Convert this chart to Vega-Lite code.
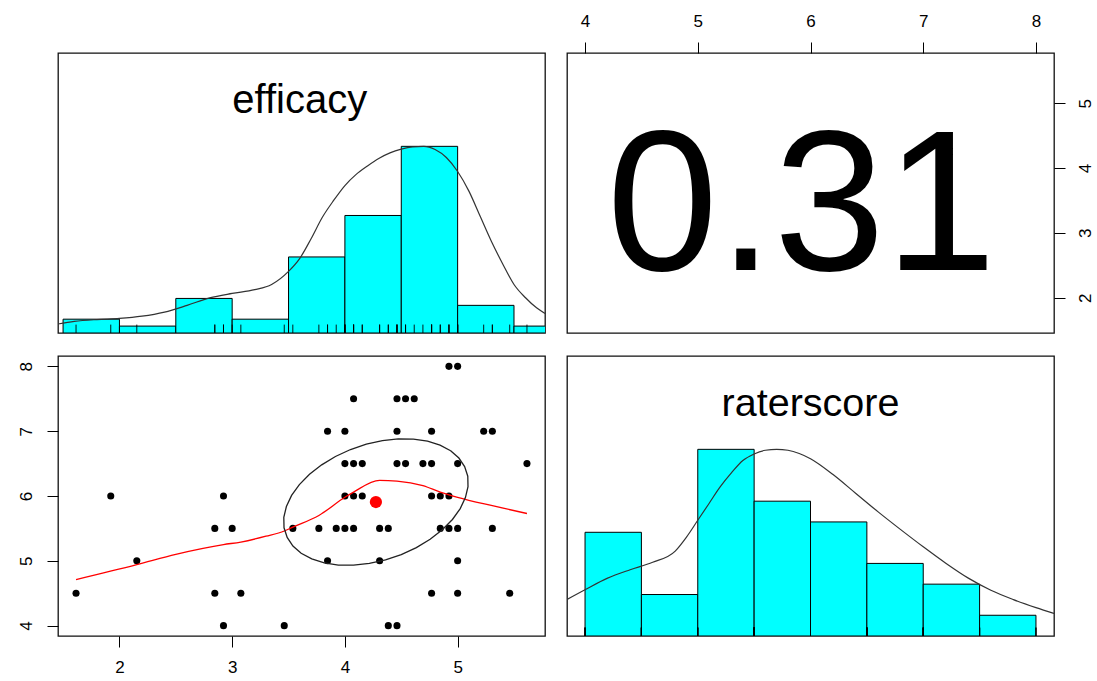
{
  "$schema": "https://vega.github.io/schema/vega-lite/v6.json",
  "background": "white",
  "padding": {"left": 16, "top": 11, "right": 0, "bottom": 0},
  "columns": 2,
  "spacing": {"row": 23, "column": 22},
  "bounds": "flush",
  "datasets": {
    "pts": [
      {"efficacy": 1.615, "raterscore": 4.5}, {"efficacy": 1.923, "raterscore": 6.0}, {"efficacy": 2.154, "raterscore": 5.0},
      {"efficacy": 2.846, "raterscore": 5.5}, {"efficacy": 2.846, "raterscore": 4.5}, {"efficacy": 2.923, "raterscore": 6.0},
      {"efficacy": 2.923, "raterscore": 4.0}, {"efficacy": 3.0, "raterscore": 5.5}, {"efficacy": 3.077, "raterscore": 4.5},
      {"efficacy": 3.462, "raterscore": 4.0}, {"efficacy": 3.538, "raterscore": 5.5}, {"efficacy": 3.769, "raterscore": 5.5},
      {"efficacy": 3.846, "raterscore": 7.0}, {"efficacy": 3.846, "raterscore": 5.0}, {"efficacy": 3.923, "raterscore": 5.5},
      {"efficacy": 4.0, "raterscore": 7.0}, {"efficacy": 4.0, "raterscore": 6.5}, {"efficacy": 4.0, "raterscore": 6.0},
      {"efficacy": 4.0, "raterscore": 5.5}, {"efficacy": 4.077, "raterscore": 7.5}, {"efficacy": 4.077, "raterscore": 6.5},
      {"efficacy": 4.077, "raterscore": 6.0}, {"efficacy": 4.077, "raterscore": 5.5}, {"efficacy": 4.154, "raterscore": 6.5},
      {"efficacy": 4.154, "raterscore": 6.0}, {"efficacy": 4.308, "raterscore": 5.5}, {"efficacy": 4.308, "raterscore": 5.0},
      {"efficacy": 4.385, "raterscore": 5.5}, {"efficacy": 4.385, "raterscore": 4.0}, {"efficacy": 4.462, "raterscore": 7.5},
      {"efficacy": 4.462, "raterscore": 7.0}, {"efficacy": 4.462, "raterscore": 6.5}, {"efficacy": 4.462, "raterscore": 4.0},
      {"efficacy": 4.538, "raterscore": 7.5}, {"efficacy": 4.538, "raterscore": 6.5}, {"efficacy": 4.615, "raterscore": 7.5},
      {"efficacy": 4.692, "raterscore": 6.5}, {"efficacy": 4.769, "raterscore": 7.0}, {"efficacy": 4.769, "raterscore": 6.5},
      {"efficacy": 4.769, "raterscore": 6.0}, {"efficacy": 4.769, "raterscore": 4.5}, {"efficacy": 4.846, "raterscore": 6.0},
      {"efficacy": 4.846, "raterscore": 5.5}, {"efficacy": 4.923, "raterscore": 8.0}, {"efficacy": 4.923, "raterscore": 6.0},
      {"efficacy": 4.923, "raterscore": 5.5}, {"efficacy": 5.0, "raterscore": 8.0}, {"efficacy": 5.0, "raterscore": 6.5},
      {"efficacy": 5.0, "raterscore": 5.5}, {"efficacy": 5.0, "raterscore": 5.0}, {"efficacy": 5.0, "raterscore": 4.5},
      {"efficacy": 5.231, "raterscore": 7.0}, {"efficacy": 5.308, "raterscore": 7.0}, {"efficacy": 5.308, "raterscore": 5.5},
      {"efficacy": 5.462, "raterscore": 4.5}, {"efficacy": 5.615, "raterscore": 6.5}
    ],
    "effHist": [
      {"lo": 1.5, "hi": 2.0, "count": 2}, {"lo": 2.0, "hi": 2.5, "count": 1}, {"lo": 2.5, "hi": 3.0, "count": 5},
      {"lo": 3.0, "hi": 3.5, "count": 2}, {"lo": 3.5, "hi": 4.0, "count": 11}, {"lo": 4.0, "hi": 4.5, "count": 17},
      {"lo": 4.5, "hi": 5.0, "count": 27}, {"lo": 5.0, "hi": 5.5, "count": 4}, {"lo": 5.5, "hi": 6.0, "count": 1}
    ],
    "raterHist": [
      {"lo": 4.0, "hi": 4.5, "count": 10}, {"lo": 4.5, "hi": 5.0, "count": 4}, {"lo": 5.0, "hi": 5.5, "count": 18},
      {"lo": 5.5, "hi": 6.0, "count": 13}, {"lo": 6.0, "hi": 6.5, "count": 11}, {"lo": 6.5, "hi": 7.0, "count": 7},
      {"lo": 7.0, "hi": 7.5, "count": 5}, {"lo": 7.5, "hi": 8.0, "count": 2}
    ],
    "effDens": [
      {"x": 1.455, "d": 0.048}, {"x": 1.6, "d": 0.062}, {"x": 1.8, "d": 0.072}, {"x": 2.0, "d": 0.078},
      {"x": 2.2, "d": 0.09}, {"x": 2.4, "d": 0.112}, {"x": 2.6, "d": 0.148}, {"x": 2.8, "d": 0.188},
      {"x": 3.0, "d": 0.212}, {"x": 3.2, "d": 0.232}, {"x": 3.35, "d": 0.26}, {"x": 3.5, "d": 0.33},
      {"x": 3.6, "d": 0.4}, {"x": 3.7, "d": 0.505}, {"x": 3.8, "d": 0.62}, {"x": 3.9, "d": 0.71},
      {"x": 4.0, "d": 0.79}, {"x": 4.1, "d": 0.85}, {"x": 4.2, "d": 0.895}, {"x": 4.3, "d": 0.935},
      {"x": 4.4, "d": 0.965}, {"x": 4.5, "d": 0.985}, {"x": 4.6, "d": 0.997}, {"x": 4.7, "d": 1.0},
      {"x": 4.8, "d": 0.983}, {"x": 4.9, "d": 0.94}, {"x": 5.0, "d": 0.865}, {"x": 5.1, "d": 0.76},
      {"x": 5.2, "d": 0.625}, {"x": 5.3, "d": 0.49}, {"x": 5.4, "d": 0.37}, {"x": 5.5, "d": 0.26},
      {"x": 5.6, "d": 0.19}, {"x": 5.7, "d": 0.135}, {"x": 5.775, "d": 0.105}
    ],
    "raterDens": [
      {"x": 3.84, "d": 0.196}, {"x": 4.0, "d": 0.248}, {"x": 4.2, "d": 0.31}, {"x": 4.4, "d": 0.355},
      {"x": 4.6, "d": 0.395}, {"x": 4.8, "d": 0.455}, {"x": 4.9, "d": 0.53}, {"x": 5.0, "d": 0.62},
      {"x": 5.1, "d": 0.71}, {"x": 5.2, "d": 0.8}, {"x": 5.3, "d": 0.875}, {"x": 5.4, "d": 0.94},
      {"x": 5.5, "d": 0.975}, {"x": 5.6, "d": 0.995}, {"x": 5.7, "d": 1.0}, {"x": 5.8, "d": 0.995},
      {"x": 5.9, "d": 0.978}, {"x": 6.0, "d": 0.95}, {"x": 6.2, "d": 0.865}, {"x": 6.4, "d": 0.765},
      {"x": 6.6, "d": 0.665}, {"x": 6.8, "d": 0.57}, {"x": 7.0, "d": 0.478}, {"x": 7.2, "d": 0.39},
      {"x": 7.4, "d": 0.31}, {"x": 7.6, "d": 0.245}, {"x": 7.8, "d": 0.195}, {"x": 8.0, "d": 0.152},
      {"x": 8.16, "d": 0.121}
    ],
    "loess": [
      {"efficacy": 1.615, "raterscore": 4.71}, {"efficacy": 2.154, "raterscore": 4.94}, {"efficacy": 2.5, "raterscore": 5.1},
      {"efficacy": 2.923, "raterscore": 5.25}, {"efficacy": 3.077, "raterscore": 5.29}, {"efficacy": 3.3, "raterscore": 5.38},
      {"efficacy": 3.462, "raterscore": 5.46}, {"efficacy": 3.538, "raterscore": 5.52}, {"efficacy": 3.769, "raterscore": 5.7},
      {"efficacy": 4.0, "raterscore": 5.98}, {"efficacy": 4.077, "raterscore": 6.06}, {"efficacy": 4.308, "raterscore": 6.24},
      {"efficacy": 4.462, "raterscore": 6.23}, {"efficacy": 4.692, "raterscore": 6.16}, {"efficacy": 4.846, "raterscore": 6.06},
      {"efficacy": 5.0, "raterscore": 5.98}, {"efficacy": 5.308, "raterscore": 5.85}, {"efficacy": 5.615, "raterscore": 5.73}
    ],
    "ellipse": [
      {"i": 0, "efficacy": 4.938, "raterscore": 6.698}, {"i": 1, "efficacy": 4.844, "raterscore": 6.785},
      {"i": 2, "efficacy": 4.733, "raterscore": 6.846}, {"i": 3, "efficacy": 4.608, "raterscore": 6.879},
      {"i": 4, "efficacy": 4.473, "raterscore": 6.882}, {"i": 5, "efficacy": 4.333, "raterscore": 6.855},
      {"i": 6, "efficacy": 4.19, "raterscore": 6.799}, {"i": 7, "efficacy": 4.05, "raterscore": 6.717},
      {"i": 8, "efficacy": 3.916, "raterscore": 6.61}, {"i": 9, "efficacy": 3.794, "raterscore": 6.481},
      {"i": 10, "efficacy": 3.686, "raterscore": 6.335}, {"i": 11, "efficacy": 3.596, "raterscore": 6.176},
      {"i": 12, "efficacy": 3.527, "raterscore": 6.009}, {"i": 13, "efficacy": 3.481, "raterscore": 5.838},
      {"i": 14, "efficacy": 3.458, "raterscore": 5.67}, {"i": 15, "efficacy": 3.46, "raterscore": 5.509},
      {"i": 16, "efficacy": 3.488, "raterscore": 5.36}, {"i": 17, "efficacy": 3.539, "raterscore": 5.228},
      {"i": 18, "efficacy": 3.612, "raterscore": 5.116}, {"i": 19, "efficacy": 3.706, "raterscore": 5.029},
      {"i": 20, "efficacy": 3.817, "raterscore": 4.968}, {"i": 21, "efficacy": 3.942, "raterscore": 4.935},
      {"i": 22, "efficacy": 4.077, "raterscore": 4.932}, {"i": 23, "efficacy": 4.217, "raterscore": 4.959},
      {"i": 24, "efficacy": 4.36, "raterscore": 5.015}, {"i": 25, "efficacy": 4.5, "raterscore": 5.097},
      {"i": 26, "efficacy": 4.634, "raterscore": 5.204}, {"i": 27, "efficacy": 4.756, "raterscore": 5.333},
      {"i": 28, "efficacy": 4.864, "raterscore": 5.479}, {"i": 29, "efficacy": 4.954, "raterscore": 5.638},
      {"i": 30, "efficacy": 5.023, "raterscore": 5.805}, {"i": 31, "efficacy": 5.069, "raterscore": 5.976},
      {"i": 32, "efficacy": 5.092, "raterscore": 6.144}, {"i": 33, "efficacy": 5.09, "raterscore": 6.305},
      {"i": 34, "efficacy": 5.062, "raterscore": 6.454}, {"i": 35, "efficacy": 5.011, "raterscore": 6.586},
      {"i": 36, "efficacy": 4.938, "raterscore": 6.698}
    ],
    "center": [{"efficacy": 4.275, "raterscore": 5.907}],
    "cor": [{"r": 0.31}],
    "effName": [{"name": "efficacy"}],
    "raterName": [{"name": "raterscore"}]
  },
  "concat": [
    {
      "width": 487, "height": 280,
      "layer": [
        {
          "data": {"name": "effHist"},
          "mark": {"type": "rect", "fill": "#00FFFF", "stroke": "black", "strokeWidth": 1, "clip": true},
          "encoding": {
            "x": {"field": "lo", "type": "quantitative", "scale": {"domain": [1.455, 5.775], "nice": false, "zero": false}, "axis": null},
            "x2": {"field": "hi"},
            "y": {"field": "count", "type": "quantitative", "scale": {"domain": [0, 40.5], "nice": false}, "axis": null},
            "y2": {"datum": 0}
          }
        },
        {
          "data": {"name": "pts"},
          "mark": {"type": "rule", "stroke": "black", "strokeWidth": 0.9},
          "encoding": {
            "x": {"field": "efficacy", "type": "quantitative"},
            "y": {"datum": 0, "type": "quantitative", "scale": {"domain": [0, 1.5], "nice": false}, "axis": null},
            "y2": {"datum": 0.045}
          }
        },
        {
          "data": {"name": "effDens"},
          "mark": {"type": "line", "stroke": "#333333", "strokeWidth": 1.2, "interpolate": "monotone", "clip": true},
          "encoding": {
            "x": {"field": "x", "type": "quantitative"},
            "y": {"field": "d", "type": "quantitative", "scale": {"domain": [0, 1.5], "nice": false}, "axis": null}
          }
        },
        {
          "data": {"name": "effName"},
          "mark": {"type": "text", "font": "Liberation Sans", "fontSize": 40, "align": "center", "baseline": "alphabetic", "color": "black"},
          "encoding": {
            "x": {"datum": 3.6, "type": "quantitative"},
            "y": {"datum": 1.18, "type": "quantitative", "scale": {"domain": [0, 1.5], "nice": false}, "axis": null},
            "text": {"field": "name"}
          }
        }
      ],
      "resolve": {"scale": {"y": "independent"}}
    },
    {
      "width": 487, "height": 280,
      "data": {"name": "cor"},
      "mark": {"type": "text", "font": "Liberation Sans", "fontSize": 200, "align": "center", "baseline": "alphabetic", "color": "black"},
      "encoding": {
        "x": {"datum": 5.92, "type": "quantitative", "scale": {"domain": [3.84, 8.16], "nice": false, "zero": false},
              "axis": {"orient": "top", "values": [4, 5, 6, 7, 8], "format": "d", "labelFontSize": 17, "labelFont": "Liberation Sans", "labelPadding": 12, "tickSize": 11}},
        "y": {"datum": 2.43, "type": "quantitative", "scale": {"domain": [1.455, 5.775], "nice": false, "zero": false},
              "axis": {"orient": "right", "values": [2, 3, 4, 5], "format": "d", "labelAngle": 270, "labelAlign": "center", "labelBaseline": "top", "labelFontSize": 17, "labelFont": "Liberation Sans", "labelPadding": 12, "tickSize": 11}},
        "text": {"field": "r", "type": "quantitative", "format": ".2f"}
      }
    },
    {
      "width": 487, "height": 280,
      "layer": [
        {
          "data": {"name": "pts"},
          "mark": {"type": "point", "filled": true, "color": "black", "size": 50, "opacity": 1},
          "encoding": {
            "x": {"field": "efficacy", "type": "quantitative", "scale": {"domain": [1.455, 5.775], "nice": false, "zero": false},
                  "axis": {"orient": "bottom", "values": [2, 3, 4, 5], "format": "d", "labelFontSize": 17, "labelFont": "Liberation Sans", "labelPadding": 12, "tickSize": 11}},
            "y": {"field": "raterscore", "type": "quantitative", "scale": {"domain": [3.84, 8.16], "nice": false, "zero": false},
                  "axis": {"orient": "left", "values": [4, 5, 6, 7, 8], "format": "d", "labelAngle": 270, "labelAlign": "center", "labelBaseline": "bottom", "labelFontSize": 17, "labelFont": "Liberation Sans", "labelPadding": 12, "tickSize": 11}}
          }
        },
        {
          "data": {"name": "loess"},
          "mark": {"type": "line", "stroke": "#FF0000", "strokeWidth": 1.3, "interpolate": "monotone"},
          "encoding": {
            "x": {"field": "efficacy", "type": "quantitative"},
            "y": {"field": "raterscore", "type": "quantitative"}
          }
        },
        {
          "data": {"name": "ellipse"},
          "mark": {"type": "line", "stroke": "#222222", "strokeWidth": 1.3},
          "encoding": {
            "x": {"field": "efficacy", "type": "quantitative"},
            "y": {"field": "raterscore", "type": "quantitative"},
            "order": {"field": "i", "type": "quantitative"}
          }
        },
        {
          "data": {"name": "center"},
          "mark": {"type": "point", "filled": true, "color": "#FF0000", "size": 150, "opacity": 1},
          "encoding": {
            "x": {"field": "efficacy", "type": "quantitative"},
            "y": {"field": "raterscore", "type": "quantitative"}
          }
        }
      ]
    },
    {
      "width": 487, "height": 280,
      "layer": [
        {
          "data": {"name": "raterHist"},
          "mark": {"type": "rect", "fill": "#00FFFF", "stroke": "black", "strokeWidth": 1, "clip": true},
          "encoding": {
            "x": {"field": "lo", "type": "quantitative", "scale": {"domain": [3.84, 8.16], "nice": false, "zero": false}, "axis": null},
            "x2": {"field": "hi"},
            "y": {"field": "count", "type": "quantitative", "scale": {"domain": [0, 27], "nice": false}, "axis": null},
            "y2": {"datum": 0}
          }
        },
        {
          "data": {"name": "pts"},
          "mark": {"type": "rule", "stroke": "black", "strokeWidth": 0.9},
          "encoding": {
            "x": {"field": "raterscore", "type": "quantitative"},
            "y": {"datum": 0, "type": "quantitative", "scale": {"domain": [0, 1.5], "nice": false}, "axis": null},
            "y2": {"datum": 0.045}
          }
        },
        {
          "data": {"name": "raterDens"},
          "mark": {"type": "line", "stroke": "#333333", "strokeWidth": 1.2, "interpolate": "monotone", "clip": true},
          "encoding": {
            "x": {"field": "x", "type": "quantitative"},
            "y": {"field": "d", "type": "quantitative", "scale": {"domain": [0, 1.5], "nice": false}, "axis": null}
          }
        },
        {
          "data": {"name": "raterName"},
          "mark": {"type": "text", "font": "Liberation Sans", "fontSize": 39.5, "align": "center", "baseline": "alphabetic", "color": "black"},
          "encoding": {
            "x": {"datum": 6.0, "type": "quantitative"},
            "y": {"datum": 1.18, "type": "quantitative", "scale": {"domain": [0, 1.5], "nice": false}, "axis": null},
            "text": {"field": "name"}
          }
        }
      ],
      "resolve": {"scale": {"y": "independent"}}
    }
  ],
  "config": {
    "view": {"stroke": "#111111", "strokeWidth": 1.3},
    "axis": {
      "title": null, "grid": false, "domain": false,
      "labelFont": "Liberation Sans", "labelFontSize": 17, "labelColor": "black",
      "tickColor": "black", "tickWidth": 1, "tickSize": 11, "labelPadding": 12
    }
  }
}
